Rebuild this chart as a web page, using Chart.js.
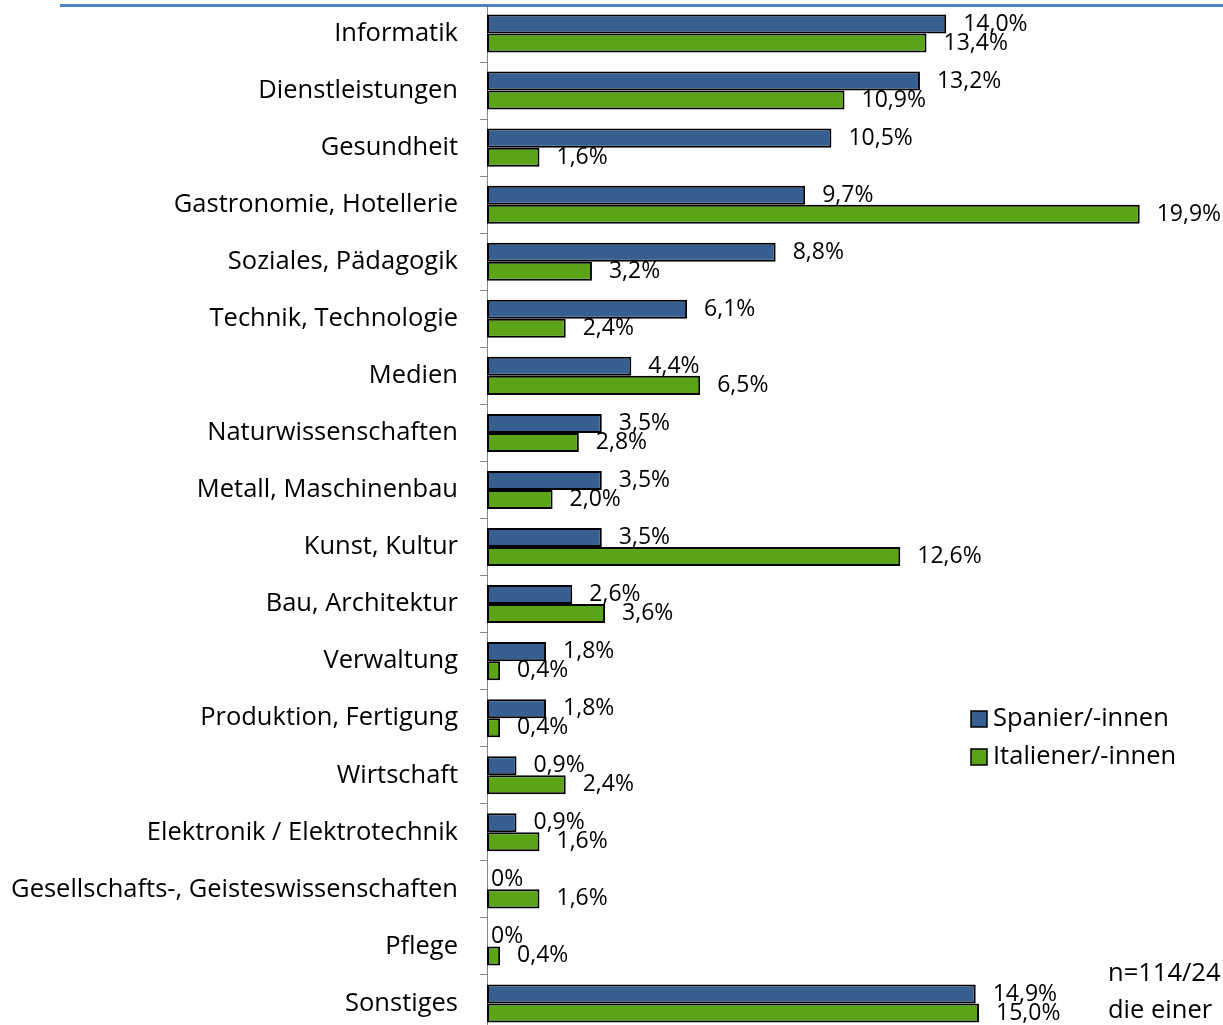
<!DOCTYPE html>
<html>
<head>
<meta charset="utf-8">
<script src="https://cdn.jsdelivr.net/npm/chart.js@4"></script>
<style>
  html, body { margin: 0; padding: 0; background: #fff; overflow: hidden; }
  #wrap { position: relative; width: 1223px; height: 1040px; }
  #topline { position: absolute; left: 60px; top: 4px; width: 1163px; height: 3px; background: #4f81bd; z-index: 2; }
  .note { position: absolute; left: 1108px; font: 25.5px "Open Sans", sans-serif; line-height: 30px; color: #000; white-space: nowrap; }
</style>
</head>
<body>
<div id="wrap">
  <canvas id="chart" width="1223" height="1040"></canvas>
  <div id="topline"></div>
  <div class="note" style="top:956px">n=114/24</div>
  <div class="note" style="top:993px">die einer</div>
</div>
<script>
// Kategorien (von oben nach unten)
const kategorien = [
  "Informatik",
  "Dienstleistungen",
  "Gesundheit",
  "Gastronomie, Hotellerie",
  "Soziales, Pädagogik",
  "Technik, Technologie",
  "Medien",
  "Naturwissenschaften",
  "Metall, Maschinenbau",
  "Kunst, Kultur",
  "Bau, Architektur",
  "Verwaltung",
  "Produktion, Fertigung",
  "Wirtschaft",
  "Elektronik / Elektrotechnik",
  "Gesellschafts-, Geisteswissenschaften",
  "Pflege",
  "Sonstiges"
];

// Anteile in Prozent
const spanier = [14.0, 13.2, 10.5, 9.7, 8.8, 6.1, 4.4, 3.5, 3.5, 3.5, 2.6, 1.8, 1.8, 0.9, 0.9, 0, 0, 14.9];
const italiener = [13.4, 10.9, 1.6, 19.9, 3.2, 2.4, 6.5, 2.8, 2.0, 12.6, 3.6, 0.4, 0.4, 2.4, 1.6, 1.6, 0.4, 15.0];

const serien = ["Spanier/-innen", "Italiener/-innen"];

const schrift = '25.5px "Open Sans", sans-serif';
const schriftWerte = '23px "Open Sans", sans-serif';

function formatProzent(v) {
  if (v === 0) return "0%";
  return v.toFixed(1).replace(".", ",") + "%";
}

// Werte rechts neben den Balken
const wertePlugin = {
  id: "werte",
  afterDatasetsDraw(chart) {
    const ctx = chart.ctx;
    ctx.save();
    ctx.font = schriftWerte;
    ctx.fillStyle = "#000";
    ctx.textAlign = "left";
    ctx.textBaseline = "middle";
    chart.data.datasets.forEach((ds, i) => {
      const meta = chart.getDatasetMeta(i);
      meta.data.forEach((bar, j) => {
        const v = ds.data[j];
        const x = v === 0 ? bar.x + 4 : bar.x + 17;
        ctx.fillText(formatProzent(v), x, bar.y);
      });
    });
    ctx.restore();
  }
};

// Legende rechts im Diagramm
const legendePlugin = {
  id: "legende",
  afterDraw(chart) {
    const ctx = chart.ctx;
    ctx.save();
    ctx.font = schrift;
    ctx.textBaseline = "middle";
    chart.data.datasets.forEach((ds, i) => {
      const y = 719 + i * 38;
      ctx.fillStyle = ds.backgroundColor;
      ctx.fillRect(971, y - 8, 16, 16);
      ctx.strokeStyle = "#000";
      ctx.lineWidth = 1.5;
      ctx.strokeRect(971, y - 8, 16, 16);
      ctx.fillStyle = "#000";
      ctx.fillText(ds.label, 993, y);
    });
    ctx.restore();
  }
};

new Chart(document.getElementById("chart"), {
  type: "bar",
  data: {
    labels: kategorien,
    datasets: [
      {
        label: serien[0],
        data: spanier,
        backgroundColor: "#375f91",
        borderColor: "#000",
        borderWidth: 2,
        borderSkipped: false
      },
      {
        label: serien[1],
        data: italiener,
        backgroundColor: "#5ba317",
        borderColor: "#000",
        borderWidth: 2,
        borderSkipped: false
      }
    ]
  },
  options: {
    indexAxis: "y",
    responsive: false,
    animation: false,
    devicePixelRatio: 1,
    layout: { padding: { top: 5, right: 80, bottom: 8, left: 0 } },
    datasets: {
      bar: { barPercentage: 1, categoryPercentage: 0.667 }
    },
    plugins: {
      legend: { display: false },
      tooltip: { enabled: false }
    },
    scales: {
      x: {
        display: false,
        min: 0,
        max: 20
      },
      y: {
        afterFit(scale) {
          scale.width = 487;
          scale.paddingTop = 0;
          scale.paddingBottom = 0;
        },
        border: { display: true, color: "#868686", width: 1 },
        grid: {
          offset: true,
          drawOnChartArea: false,
          drawTicks: true,
          tickLength: 7,
          color: "#868686"
        },
        ticks: {
          color: "#000",
          padding: 22,
          autoSkip: false,
          font: { family: "Open Sans", size: 25.5 }
        }
      }
    }
  },
  plugins: [wertePlugin, legendePlugin]
});
</script>
</body>
</html>
